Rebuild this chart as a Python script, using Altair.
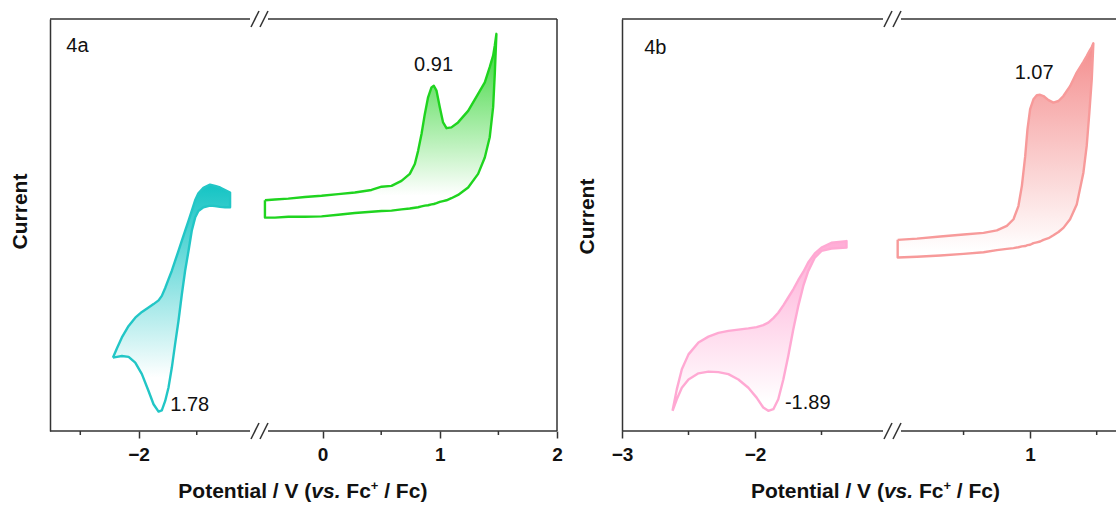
import altair as alt
import pandas as pd

FONT = "Liberation Sans"
AXC = "#333333"
TXT = "#111111"
H = 412

# ---------------- data ----------------
# 4a, reduction scan (cyan)
cyan_V = [-2.220, -2.185, -2.143, -2.085, -2.028, -1.971, -1.914, -1.871, -1.828, -1.800,
          -1.771, -1.743, -1.714, -1.686, -1.657, -1.628, -1.600, -1.571, -1.543, -1.514,
          -1.486, -1.443, -1.386, -1.343, -1.300, -1.257, -1.214]
cyan_up = [17.8, 20.1, 22.7, 25.5, 27.5, 28.9, 30.0, 30.8, 31.7, 32.8, 34.7, 36.8, 38.9, 41.3,
           43.7, 46.2, 48.6, 51.0, 53.4, 56.0, 57.7, 59.0, 59.8, 59.5, 59.1, 58.5, 57.9]
cyan_lo = [17.8, 18.0, 18.2, 18.0, 16.6, 13.8, 9.7, 6.5, 4.7, 5.0, 7.3, 10.5, 15.4, 21.1,
           26.7, 33.2, 38.9, 43.7, 48.6, 51.8, 53.4, 54.3, 54.7, 54.6, 54.4, 54.3, 54.3]

# 4a, oxidation scan (green)
green_V = [-0.492, -0.407, -0.293, -0.151, -0.009, 0.133, 0.275, 0.417, 0.503, 0.588, 0.673,
           0.744, 0.787, 0.815, 0.844, 0.872, 0.900, 0.929, 0.949, 0.972, 1.000, 1.028, 1.057,
           1.099, 1.156, 1.242, 1.327, 1.384, 1.426, 1.455, 1.469, 1.483]
green_up = [56.0, 56.2, 56.4, 56.8, 57.1, 57.5, 57.9, 58.5, 59.3, 59.5, 60.7, 62.4, 64.8, 68.0,
            72.1, 76.9, 81.0, 83.4, 83.8, 82.6, 78.6, 74.9, 73.5, 73.7, 74.9, 77.7, 81.8, 84.6,
            88.3, 91.1, 93.5, 96.4]
green_lo = [51.8, 51.8, 52.0, 52.0, 52.1, 52.5, 52.9, 53.2, 53.4, 53.5, 53.8, 54.0, 54.2, 54.3,
            54.5, 54.7, 54.8, 55.0, 55.1, 55.3, 55.6, 55.8, 56.0, 56.5, 57.3, 59.1, 62.4, 66.4,
            71.3, 78.6, 86.6, 96.4]

# 4b, reduction scan (pink)
pink_V = [-2.620, -2.588, -2.550, -2.500, -2.425, -2.350, -2.275, -2.200, -2.125, -2.050, -1.988,
          -1.938, -1.900, -1.862, -1.825, -1.787, -1.750, -1.712, -1.675, -1.637, -1.600, -1.550,
          -1.500, -1.425, -1.312]
pink_up = [4.9, 10.1, 15.0, 18.6, 21.5, 22.9, 23.8, 24.3, 24.6, 24.9, 25.2, 25.7, 26.3, 27.4,
           28.7, 30.5, 32.4, 34.4, 36.6, 38.6, 40.9, 43.1, 44.5, 45.7, 46.1]
pink_lo = [4.9, 7.7, 10.5, 12.5, 14.0, 14.4, 14.3, 13.8, 12.5, 10.5, 8.1, 5.7, 4.9, 5.3, 7.7,
           12.5, 18.2, 24.7, 30.3, 35.2, 38.8, 42.1, 43.7, 44.3, 44.5]

# 4b, oxidation scan (salmon)
salmon_V = [0.005, 0.150, 0.325, 0.500, 0.650, 0.750, 0.825, 0.875, 0.912, 0.938, 0.963, 0.980,
            1.000, 1.025, 1.050, 1.075, 1.100, 1.138, 1.175, 1.213, 1.250, 1.300, 1.350, 1.400,
            1.425, 1.445, 1.463, 1.475]
salmon_up = [46.4, 46.7, 47.2, 47.7, 48.1, 48.7, 49.8, 51.4, 54.6, 59.5, 66.7, 73.2, 78.1, 80.5,
             81.5, 81.6, 81.3, 80.3, 79.7, 80.1, 81.3, 83.7, 87.0, 89.6, 91.0, 92.2, 93.2, 94.1]
salmon_lo = [42.1, 42.3, 42.6, 43.0, 43.4, 43.9, 44.2, 44.4, 44.6, 44.8, 44.9, 45.1, 45.2, 45.6,
             45.8, 46.0, 46.4, 46.8, 47.5, 48.3, 49.3, 51.4, 55.0, 62.7, 69.2, 77.3, 85.4, 94.1]

# annotations: (text, potential, current, align)
labels_a1 = [("4a", -2.62, 92.0, "left"), ("1.78", -1.728, 4.9, "left")]
labels_a2 = [("0.91", 0.947, 87.4, "center")]
labels_b1 = [("4b", -2.833, 91.4, "left"), ("-1.89", -1.775, 5.3, "left")]
labels_b2 = [("1.07", 1.030, 85.5, "center")]

major_a1, minor_a1 = [-2], [-2.5, -1.5]
major_a2, minor_a2 = [0, 1, 2], [0.5, 1.5]
major_b1, minor_b1 = [-3, -2], [-2.5, -1.5]
major_b2, minor_b2 = [1], [0.5, 1.5]

DUMMY = pd.DataFrame({"d": [0]})


def gradient(c, stop):
    return alt.Gradient(
        gradient="linear",
        stops=[alt.GradientStop(color=c, offset=0),
               alt.GradientStop(color="#ffffff", offset=stop)],
        x1=0, x2=0, y1=0, y2=1)


def xaxis(ticks):
    return alt.Axis(
        values=ticks, title=None, domain=False, grid=False, format="d",
        tickSize=7, tickColor=AXC, tickWidth=1.5, labelFlush=False, labelOverlap=False,
        labelFont=FONT, labelFontSize=19, labelFontWeight="bold", labelColor=TXT,
        labelPadding=7)


def yaxis(pad, ty):
    return alt.Axis(
        title="Current", ticks=False, labels=False, grid=False, domain=True,
        domainColor=AXC, domainWidth=1.5, titleFont=FONT, titleFontSize=21,
        titleFontWeight="bold", titleColor=TXT, titlePadding=pad, titleY=ty)


def rule(**enc):
    return alt.Chart(DUMMY).mark_rule(color=AXC, strokeWidth=1.5).encode(**enc)


def title_pieces(x0):
    y = H + 67
    pieces = [("Potential / V (", 0.0, 21, "normal", 0),
              ("vs.", 133.0, 21, "italic", 0),
              ("Fc", 168.0, 21, "normal", 0),
              ("+", 192.5, 13, "normal", -8),
              ("/ Fc)", 205.9, 21, "normal", 0)]
    out = []
    for t, off, fs, st, dy in pieces:
        out.append(alt.Chart(DUMMY).mark_text(
            text=t, font=FONT, fontSize=fs, fontWeight="bold", fontStyle=st,
            align="left", baseline="alphabetic", color=TXT
        ).encode(x=alt.value(x0 + off), y=alt.value(y + dy)))
    return out


def segment(V, up, lo, line_c, fill_c, stop, xdom, width, major, minor, is_left, labels,
            ytitle=None, right_border=False, title_x=None):
    xs = alt.Scale(domain=xdom, nice=False, zero=False)
    ys = alt.Scale(domain=[0, 100], nice=False, zero=False)
    xa = xaxis(major)
    ya = yaxis(*ytitle) if ytitle else None

    fill = pd.DataFrame({"V": V, "lo": lo, "up": up})
    loopV = list(V) + list(V[::-1]) + [V[0]]
    loopI = list(up) + list(lo[::-1]) + [up[0]]
    line = pd.DataFrame({"V": loopV, "I": loopI, "k": list(range(len(loopV)))})

    area = alt.Chart(fill).mark_area(color=gradient(fill_c, stop)).encode(
        x=alt.X("V:Q", scale=xs, axis=xa),
        y=alt.Y("lo:Q", scale=ys, axis=ya),
        y2="up:Q")
    outline = alt.Chart(line).mark_line(
        color=line_c, strokeWidth=2.4, strokeJoin="round").encode(
        x=alt.X("V:Q", scale=xs, axis=xa),
        y=alt.Y("I:Q", scale=ys, axis=ya),
        order="k:Q")
    minor_ticks = alt.Chart(pd.DataFrame({"V": minor})).mark_rule(
        color=AXC, strokeWidth=1.5).encode(
        x=alt.X("V:Q", scale=xs, axis=xa), y=alt.value(H), y2=alt.value(H + 4))
    parts = [area, outline, minor_ticks]

    for t, v, i, al in labels:
        df = pd.DataFrame({"V": [v], "I": [i], "t": [t]})
        parts.append(alt.Chart(df).mark_text(
            font=FONT, fontSize=20, align=al, baseline="alphabetic", color=TXT
        ).encode(x=alt.X("V:Q", scale=xs, axis=xa),
                 y=alt.Y("I:Q", scale=ys, axis=ya), text="t:N"))

    if is_left:
        a, b, c = 0, width - 5, width
    else:
        a, b, c = 4, width, 0
    parts += [rule(x=alt.value(a), x2=alt.value(b), y=alt.value(0)),
              rule(x=alt.value(a), x2=alt.value(b), y=alt.value(H)),
              rule(x=alt.value(c - 4), x2=alt.value(c + 4), y=alt.value(8), y2=alt.value(-8)),
              rule(x=alt.value(c - 4), x2=alt.value(c + 4), y=alt.value(H + 8), y2=alt.value(H - 8))]
    if right_border:
        parts.append(rule(x=alt.value(width), y=alt.value(0), y2=alt.value(H)))
    if title_x is not None:
        parts += title_pieces(title_x)
    return alt.layer(*parts).properties(width=width, height=H)


A1 = segment(cyan_V, cyan_up, cyan_lo, "#22c6c6", "#14c4c4", 0.85, [-2.76, -1.0], 205,
             major_a1, minor_a1, True, labels_a1, ytitle=(20, 192), title_x=128.3)
A2 = segment(green_V, green_up, green_lo, "#1fd41f", "#2fd42f", 0.88, [-0.5, 2.0], 293,
             major_a2, minor_a2, False, labels_a2, right_border=True)
B1 = segment(pink_V, pink_up, pink_lo, "#ffa9d3", "#ffacd6", 0.95, [-3.0, -1.0], 266,
             major_b1, minor_b1, True, labels_b1, ytitle=(25, 197), title_x=128.9)
B2 = segment(salmon_V, salmon_up, salmon_lo, "#f79a9a", "#f48e8e", 0.97, [0.0, 1.645], 219,
             major_b2, minor_b2, False, labels_b2)

# empty spacer between the two panels (65 px between frames = 9 + 47 + 9)
spacer = alt.Chart(DUMMY).mark_point(opacity=0).encode(
    x=alt.value(0), y=alt.value(0)).properties(width=47, height=H)

chart = alt.hconcat(A1, A2, spacer, B1, B2, spacing=9, bounds="flush").properties(
    padding={"left": 9, "top": 10, "right": 0, "bottom": 0},
    background="white"
).configure_view(stroke=None)

chart.save("out.html", embed_options={"renderer": "svg", "actions": False})
